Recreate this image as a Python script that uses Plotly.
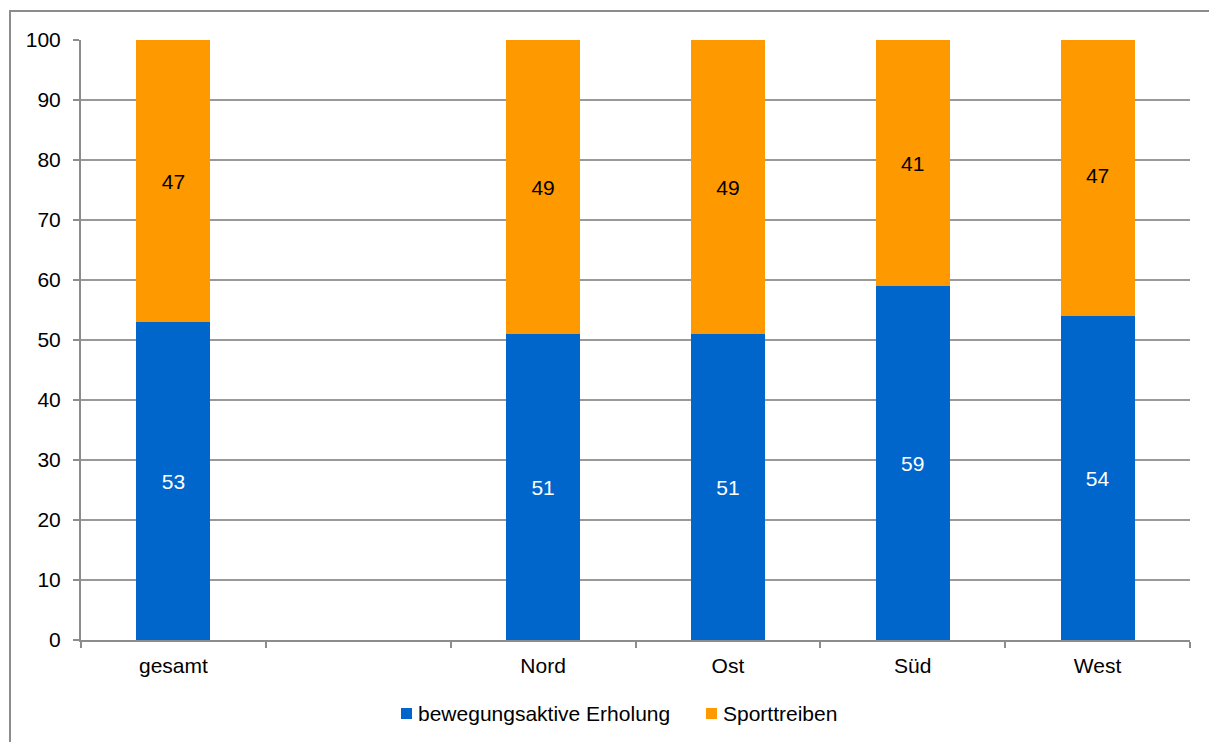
import plotly.graph_objects as go

# Categories (one empty slot between "gesamt" and the regions)
categories = ["gesamt", " ", "Nord", "Ost", "Süd", "West"]
erholung = [53, None, 51, 51, 59, 54]
sport = [47, None, 49, 49, 41, 47]
series_names = ["bewegungsaktive Erholung", "Sporttreiben"]

BLUE = "#0066CC"
ORANGE = "#FF9900"
GRID = "#999999"
AXIS = "#8C8C8C"
FONT = "Liberation Sans, Arial, sans-serif"
FS = 21

W, H = 1209, 742
L, R, T, B = 81, 19, 40, 102
pw, ph = W - L - R, H - T - B


def px_x(x):
    return (x - L) / pw


def px_y(y):
    return (H - B - y) / ph


def labels(vals):
    return [("" if v is None else str(v)) for v in vals]


fig = go.Figure()
fig.add_trace(go.Bar(
    x=categories, y=erholung, name=series_names[0],
    marker=dict(color=BLUE, line=dict(width=0)),
    text=labels(erholung), textposition="inside", insidetextanchor="middle",
    textfont=dict(color="white", size=FS, family=FONT),
    width=0.4, showlegend=False,
))
fig.add_trace(go.Bar(
    x=categories, y=sport, name=series_names[1],
    marker=dict(color=ORANGE, line=dict(width=0)),
    text=labels(sport), textposition="inside", insidetextanchor="middle",
    textfont=dict(color="black", size=FS, family=FONT),
    width=0.4, showlegend=False,
))

# outer chart frame (runs off the right/bottom edge)
fig.add_shape(
    type="rect", xref="paper", yref="paper",
    x0=px_x(10), x1=px_x(W + 10), y0=px_y(H + 10), y1=px_y(11),
    line=dict(color=AXIS, width=2), fillcolor="rgba(0,0,0,0)", layer="below",
)

# legend: small square key followed by the series name
legend_items = [(series_names[0], BLUE, 401), (series_names[1], ORANGE, 706)]
for name, color, x0 in legend_items:
    fig.add_shape(
        type="rect", xref="paper", yref="paper",
        x0=px_x(x0), x1=px_x(x0 + 11), y0=px_y(719), y1=px_y(708),
        line=dict(width=0), fillcolor=color,
    )
    fig.add_annotation(
        xref="paper", yref="paper", x=px_x(x0 + 15), y=px_y(713.5),
        xanchor="left", yanchor="middle", text=name, showarrow=False,
        font=dict(size=FS, family=FONT, color="black"),
    )

fig.update_layout(
    width=W, height=H,
    margin=dict(l=L, r=R, t=T, b=B, pad=0),
    barmode="stack",
    plot_bgcolor="white", paper_bgcolor="white",
    font=dict(family=FONT, size=FS, color="black"),
    uniformtext=dict(mode=False),
    showlegend=False,
    xaxis=dict(
        type="category", categoryorder="array", categoryarray=categories,
        range=[-0.5, 5.5],
        tickson="boundaries", ticks="outside", ticklen=6, tickwidth=2,
        tickcolor=AXIS, showline=True, linecolor=AXIS, linewidth=2,
        showgrid=False, tickfont=dict(size=FS, family=FONT),
        ticklabelstandoff=6,
    ),
    yaxis=dict(
        range=[0, 100], dtick=10, tick0=0,
        ticks="outside", ticklen=6, tickwidth=2, tickcolor=AXIS,
        showline=True, linecolor=AXIS, linewidth=2,
        showgrid=True, gridcolor=GRID, gridwidth=1.5,
        zeroline=False, tickfont=dict(size=FS, family=FONT),
        ticklabelstandoff=8,
    ),
)

fig.write_html("out.html")
